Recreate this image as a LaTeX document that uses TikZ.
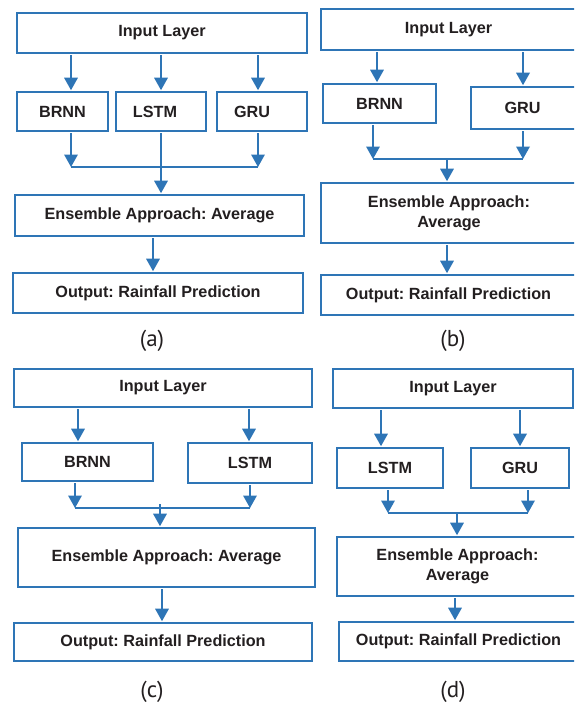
\documentclass[tikz,border=0pt]{standalone}
\usepackage{fontspec}
\setmainfont{Liberation Sans}
\newfontfamily\capfont{PT Sans}
\usetikzlibrary{arrows.meta}
\definecolor{flowblue}{HTML}{2E75B6}
\definecolor{inkgray}{HTML}{231F20}
\frenchspacing
\begin{document}
\begin{tikzpicture}[x=1pt,y=-1pt,
  box/.style={draw=flowblue,line width=1.6pt,fill=white,inner sep=0pt,
    text=inkgray,font=\fontsize{16.2}{20}\selectfont\bfseries,align=center},
  txt/.style={text=inkgray,font=\fontsize{16.2}{20}\selectfont\bfseries,inner sep=0pt},
  arr/.style={draw=flowblue,line width=1.8pt,-{Triangle[width=13.5pt,length=12.5pt]},
    shorten <=1.5pt,shorten >=1pt},
  link/.style={draw=flowblue,line width=1.8pt},
  subcap/.style={text=inkgray,font=\capfont\fontsize{23}{26}\selectfont,inner sep=0pt}]
\useasboundingbox (0,0) rectangle (574,706);
\clip (0,0) rectangle (574,706);
\fill[white] (0,0) rectangle (574,706);

% ---------------- (a) BRNN + LSTM + GRU ----------------
\node[box,minimum width=290pt,minimum height=40pt] (ain) at (162,33) {Input Layer};
\node[box,minimum width=91pt,minimum height=39pt] (abrnn) at (62.5,111.5) {BRNN};
\node[box,minimum width=90pt,minimum height=39pt,
  label={[txt,xshift=-6pt]center:LSTM}] (alstm) at (161,111.5) {};
\node[box,minimum width=90pt,minimum height=39pt,
  label={[txt,xshift=-10pt]center:GRU}] (agru) at (262,111.5) {};
\node[box,minimum width=289pt,minimum height=41pt] (aens) at (159.5,215.5) {Ensemble Approach: Average};
\node[box,minimum width=290pt,minimum height=40pt] (aout) at (158,293) {Output: Rainfall Prediction};
\node[subcap] (acap) at (152,341) {(a)};
\coordinate (ac1) at (71,0);
\coordinate (ac2) at (161,0);
\coordinate (ac3) at (258,0);
\coordinate (ac4) at (153,0);
\coordinate (aj) at (0,167);
\draw[arr] (ain.south -| ac1) -- (abrnn.north -| ac1);
\draw[arr] (ain.south -| ac2) -- (alstm.north -| ac2);
\draw[arr] (ain.south -| ac3) -- (agru.north -| ac3);
\draw[arr,shorten >=0pt] (abrnn.south -| ac1) -- (aj -| ac1);
\draw[arr,shorten >=0pt] (agru.south -| ac3) -- (aj -| ac3);
\draw[link] (aj -| ac1) -- (aj -| ac3);
\draw[arr] (alstm.south -| ac2) -- (aens.north -| ac2);
\draw[arr] (aens.south -| ac4) -- (aout.north -| ac4);

% ---------------- (b) BRNN + GRU ----------------
\node[box,minimum width=257pt,minimum height=41pt,
  label={[txt,xshift=-1pt]center:Input Layer}] (bin) at (449.5,29.5) {};
\node[box,minimum width=113pt,minimum height=39pt] (bbrnn) at (379.5,103.5) {BRNN};
\node[box,minimum width=107pt,minimum height=42pt,
  label={[txt,xshift=-2pt]center:GRU}] (bgru) at (524.5,108) {};
\node[box,minimum width=257pt,minimum height=60pt,
  label={[txt,align=center,xshift=-0.5pt]center:Ensemble Approach:\\Average}] (bens) at (449.5,213) {};
\node[box,minimum width=257pt,minimum height=40pt,
  label={[txt,xshift=-1pt]center:Output: Rainfall Prediction}] (bout) at (449.5,295) {};
\node[subcap] (bcap) at (453,341) {(b)};
\coordinate (bc1) at (377,0);
\coordinate (bc2) at (523,0);
\coordinate (bc3) at (373,0);
\coordinate (bc4) at (447,0);
\coordinate (bj) at (0,159);
\draw[arr] (bin.south -| bc1) -- (bbrnn.north -| bc1);
\draw[arr] (bin.south -| bc2) -- (bgru.north -| bc2);
\draw[arr,shorten >=0pt] (bbrnn.south -| bc3) -- (bj -| bc3);
\draw[arr,shorten >=0pt] (bgru.south -| bc2) -- (bj -| bc2);
\draw[link] (bj -| bc3) -- (bj -| bc2);
\draw[arr,shorten <=0pt] (bj -| bc4) -- (bens.north -| bc4);
\draw[arr] (bens.south -| bc4) -- (bout.north -| bc4);

% ---------------- (c) BRNN + LSTM ----------------
\node[box,minimum width=298pt,minimum height=38pt] (cin) at (163,388) {Input Layer};
\node[box,minimum width=131pt,minimum height=38pt] (cbrnn) at (87.5,462) {BRNN};
\node[box,minimum width=124pt,minimum height=40pt] (clstm) at (250,463) {LSTM};
\node[box,minimum width=297pt,minimum height=59pt] (cens) at (166.5,557.5) {Ensemble Approach: Average};
\node[box,minimum width=298pt,minimum height=38pt] (cout) at (163,642) {Output: Rainfall Prediction};
\node[subcap] (ccap) at (152,692) {(c)};
\coordinate (cc1) at (78,0);
\coordinate (cc2) at (249,0);
\coordinate (cc3) at (75,0);
\coordinate (cc4) at (250,0);
\coordinate (cc5) at (160,0);
\coordinate (cc6) at (162,0);
\coordinate (cj) at (0,508);
\coordinate (cjt) at (160,504);
\draw[arr] (cin.south -| cc1) -- (cbrnn.north -| cc1);
\draw[arr] (cin.south -| cc2) -- (clstm.north -| cc2);
\draw[arr,shorten >=0pt] (cbrnn.south -| cc3) -- (cj -| cc3);
\draw[arr,shorten >=0pt] (clstm.south -| cc4) -- (cj -| cc4);
\draw[link] (cj -| cc3) -- (cj -| cc4);
\draw[arr,shorten <=0pt] (cjt) -- (cens.north -| cc5);
\draw[arr] (cens.south -| cc6) -- (cout.north -| cc6);

% ---------------- (d) LSTM + GRU ----------------
\node[box,minimum width=240pt,minimum height=39pt] (din) at (453,388.5) {Input Layer};
\node[box,minimum width=106pt,minimum height=40pt] (dlstm) at (390,468) {LSTM};
\node[box,minimum width=98pt,minimum height=40pt] (dgru) at (520,468) {GRU};
\node[box,minimum width=241pt,minimum height=59pt,
  label={[txt,align=center]center:Ensemble Approach:\\Average}] (dens) at (457.5,566.5) {};
\node[box,minimum width=239pt,minimum height=39pt,
  label={[txt]center:Output: Rainfall Prediction}] (dout) at (458.5,641.5) {};
\node[subcap] (dcap) at (453,692) {(d)};
\coordinate (dc1) at (381,0);
\coordinate (dc2) at (520,0);
\coordinate (dc3) at (388,0);
\coordinate (dc4) at (528,0);
\coordinate (dc5) at (457,0);
\coordinate (dc6) at (455,0);
\coordinate (dj) at (0,513);
\draw[arr] (din.south -| dc1) -- (dlstm.north -| dc1);
\draw[arr] (din.south -| dc2) -- (dgru.north -| dc2);
\draw[arr,shorten >=0pt] (dlstm.south -| dc3) -- (dj -| dc3);
\draw[arr,shorten >=0pt] (dgru.south -| dc4) -- (dj -| dc4);
\draw[link] (dj -| dc3) -- (dj -| dc4);
\draw[arr,shorten <=0pt] (dj -| dc5) -- (dens.north -| dc5);
\draw[arr] (dens.south -| dc6) -- (dout.north -| dc6);
\end{tikzpicture}
\end{document}
